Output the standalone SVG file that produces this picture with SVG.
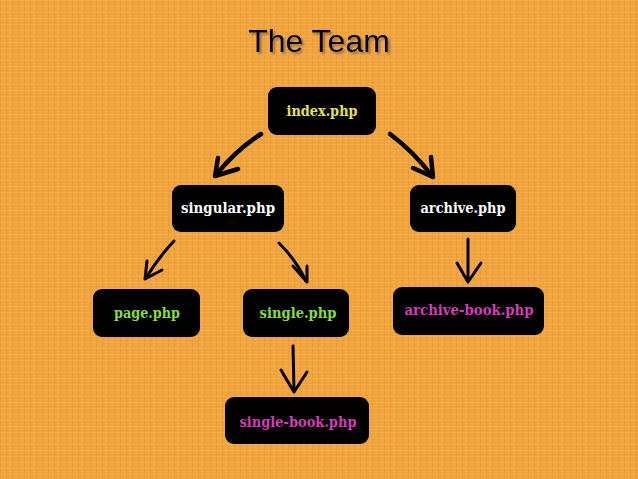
<svg xmlns="http://www.w3.org/2000/svg" width="638" height="479" viewBox="0 0 638 479">
<defs>
<pattern id="tex" width="6" height="6" patternUnits="userSpaceOnUse">
<rect width="6" height="6" fill="#F1A43E"/>
<rect x="0" y="0" width="6" height="1" fill="#F4B456" opacity="0.6"/>
<rect x="0" y="0" width="1" height="6" fill="#E69632" opacity="0.5"/>
<rect x="3" y="3" width="2" height="1" fill="#F6BB60" opacity="0.5"/>
</pattern>
<filter id="sh" x="-10%" y="-20%" width="130%" height="150%">
<feDropShadow dx="2" dy="2" stdDeviation="0.8" flood-color="#6b5a45" flood-opacity="0.7"/>
</filter>
<style>
.box{fill:#000;}
.lbl{font-family:"DejaVu Serif","Liberation Serif",serif;font-size:15px;font-weight:bold;text-anchor:middle;}
.w{fill:#FFFFFF;}
.y{fill:#E6E24C;}
.g{fill:#86DC3C;}
.m{fill:#D23CB4;}
.c{fill:none;stroke:#000;stroke-linecap:round;stroke-linejoin:round;}
.thick{stroke-width:4.5;}
.thin{stroke-width:3;}
</style>
</defs>
<rect width="638" height="479" fill="url(#tex)"/>
<g id="title">
<text x="319" y="52" font-family="Liberation Sans,Arial,sans-serif" font-size="32" text-anchor="middle" fill="#000" filter="url(#sh)">The Team</text>
</g>
<g id="connectors">
<path class="c thick" d="M261,134 Q236,150 216,175"/>
<path class="c thick" d="M218,158 L215,176 L238,169"/>
<path class="c thick" d="M390,134 Q414,152 432,176"/>
<path class="c thick" d="M413,168 L433,177 L431,157"/>
<path class="c thin" d="M174,241 Q158,258 146,278"/>
<path class="c thin" d="M147,261 L145,279 L162,270"/>
<path class="c thin" d="M279,243 Q296,260 306,281"/>
<path class="c thin" d="M293,266 L307,282 L307,266"/>
<path class="c thin" d="M468,239 L468,281"/>
<path class="c thin" d="M457,263 L468,282 L481,263"/>
<path class="c thin" d="M293,346 L294,391"/>
<path class="c thin" d="M281,370 L294,392 L307,372"/>
</g>
<g id="index">
<rect class="box" x="268" y="87" width="108" height="48" rx="9"/>
<text class="lbl y" x="322" y="116" textLength="71" lengthAdjust="spacingAndGlyphs">index.php</text>
</g>
<g id="singular">
<rect class="box" x="172" y="185" width="112" height="47" rx="9"/>
<text class="lbl w" x="228" y="213" textLength="94" lengthAdjust="spacingAndGlyphs">singular.php</text>
</g>
<g id="archive">
<rect class="box" x="410" y="185" width="106" height="47" rx="9"/>
<text class="lbl w" x="463" y="213" textLength="85" lengthAdjust="spacingAndGlyphs">archive.php</text>
</g>
<g id="page">
<rect class="box" x="93" y="289" width="107" height="48" rx="9"/>
<text class="lbl g" x="147" y="318" textLength="66" lengthAdjust="spacingAndGlyphs">page.php</text>
</g>
<g id="single">
<rect class="box" x="243" y="289" width="106" height="48" rx="9"/>
<text class="lbl g" x="298" y="318" textLength="77" lengthAdjust="spacingAndGlyphs">single.php</text>
</g>
<g id="archive-book">
<rect class="box" x="393" y="287" width="151" height="48" rx="9"/>
<text class="lbl m" x="469" y="315" textLength="129" lengthAdjust="spacingAndGlyphs">archive-book.php</text>
</g>
<g id="single-book">
<rect class="box" x="225" y="397" width="144" height="47" rx="9"/>
<text class="lbl m" x="298" y="427" textLength="117" lengthAdjust="spacingAndGlyphs">single-book.php</text>
</g>
</svg>
